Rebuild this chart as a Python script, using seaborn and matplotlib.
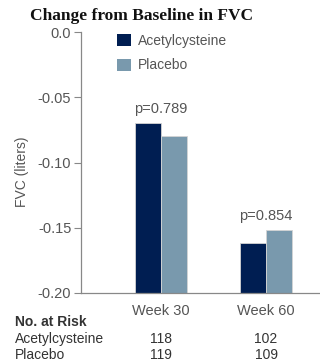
import numpy as np
import pandas as pd
import seaborn as sns
import matplotlib.pyplot as plt
from matplotlib.patches import Patch

weeks = ['Week 30', 'Week 60']
groups = ['Acetylcysteine', 'Placebo']
acetyl_change = [-0.070, -0.162]
placebo_change = [-0.080, -0.152]
p_values = ['p=0.789', 'p=0.854']
at_risk_acetyl = [118, 102]
at_risk_placebo = [119, 109]
yticks = [0.0, -0.05, -0.10, -0.15, -0.20]
colors = ['#001e52', '#7999ad']
base = -0.20

df = pd.DataFrame({
    'week': weeks * 2,
    'group': [groups[0]] * 2 + [groups[1]] * 2,
    'change': acetyl_change + placebo_change,
})
# bars rise from the bottom of the axis, so draw height relative to the baseline
df['height'] = df['change'] - base

sns.set_style('white')
plt.rcParams['font.family'] = ['Liberation Sans', 'DejaVu Sans']
grey = '#555555'

fig = plt.figure(figsize=(3.2, 3.62), dpi=100)
ax = fig.add_axes([81 / 320, 1 - 293 / 362, 1 - 81 / 320, (293 - 32) / 362])

sns.barplot(data=df, x='week', y='height', hue='group', palette=colors, saturation=1,
            width=0.5, bottom=base, ax=ax, legend=False,
            edgecolor='#d4d4d4', linewidth=0.6)

ax.set_ylim(base, 0.0)
ax.set_xlim(-0.762, 1.514)
ax.set_yticks(yticks)
ax.set_yticklabels([f'{t:.2f}' if t != 0 else '0.0' for t in yticks])
ax.tick_params(axis='y', length=5, width=0.8, color='#888888', labelcolor=grey,
               labelsize=10.5, left=True, pad=2)
ax.tick_params(axis='x', length=0, labelcolor=grey, labelsize=10.5, pad=8)
ax.set_xlabel('')
ax.set_ylabel('')
for s in ['top', 'right']:
    ax.spines[s].set_visible(False)
for s in ['left', 'bottom']:
    ax.spines[s].set_color('#888888')
    ax.spines[s].set_linewidth(0.9)

# p-values above each pair
for i, p in enumerate(p_values):
    top = max(acetyl_change[i], placebo_change[i])
    ax.text(i, top + 0.006, p, ha='center', va='bottom', fontsize=10.5, color=grey)

handles = [Patch(facecolor=c, edgecolor='none') for c in colors]
ax.legend(handles, groups, loc='upper left', bbox_to_anchor=(0.1, 1.04),
          frameon=False, fontsize=10, handlelength=0.95, handleheight=0.95,
          handletextpad=0.55, labelspacing=0.75, labelcolor=grey)

fig.text(142 / 320, 1 - 16 / 362, 'Change from Baseline in FVC', ha='center', va='center',
         fontsize=12.5, fontweight='bold', family='Liberation Serif', color='#111111')
fig.text(22 / 320, 1 - 172 / 362, 'FVC (liters)', rotation=90, ha='center', va='center',
         fontsize=10, color=grey)

# number at risk table
fig.text(15 / 320, 1 - 322 / 362, 'No. at Risk', ha='left', va='center',
         fontsize=10, fontweight='bold', color='#333333')
for row_y, name, vals in [(339, groups[0], at_risk_acetyl), (355, groups[1], at_risk_placebo)]:
    fig.text(15 / 320, 1 - row_y / 362, name, ha='left', va='center', fontsize=10, color='#333333')
    for i, v in enumerate(vals):
        xd = ax.transData.transform((i, 0))[0]
        xf = fig.transFigure.inverted().transform((xd, 0))[0]
        fig.text(xf, 1 - row_y / 362, str(v), ha='center', va='center', fontsize=10, color='#333333')

fig.savefig('out.png', dpi=100)
